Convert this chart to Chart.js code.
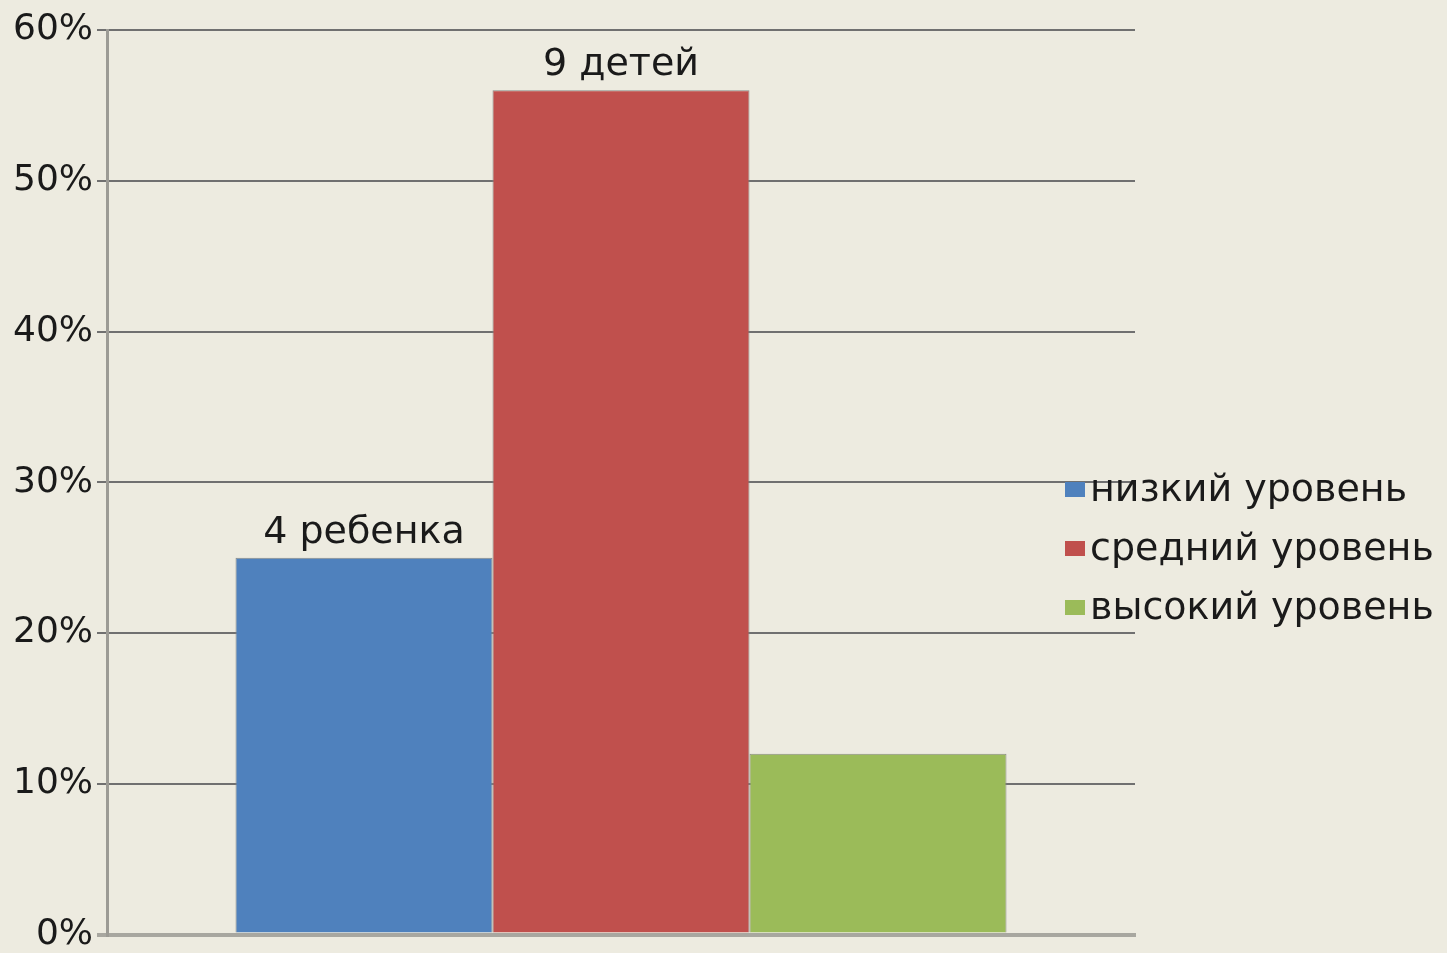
<!DOCTYPE html>
<html>
<head>
    <meta charset="utf-8">
    <title>Уровни</title>
    <script src="https://cdn.jsdelivr.net/npm/chart.js"></script>
    <style>
        html, body {
            margin: 0;
            padding: 0;
            background: #edebe0;
        }
        .chart-wrap {
            width: 1447px;
            height: 953px;
            position: relative;
        }
    </style>
</head>
<body>
<div class="chart-wrap">
    <canvas id="levelChart"></canvas>
</div>

<script>
    // data
    const categories = [''];
    const seriesNames = ['низкий уровень', 'средний уровень', 'высокий уровень'];
    const seriesValues = [25, 56, 12];
    const barLabels = ['4 ребенка', '9 детей', ''];
    const seriesColors = ['#4f81bd', '#c0504d', '#9bbb59'];
    const yMin = 0, yMax = 60, yStep = 10;

    const FONT = "'DejaVu Sans', Verdana, sans-serif";

    // text over the bars
    const barLabelPlugin = {
        id: 'barLabels',
        afterDatasetsDraw(chart) {
            const ctx = chart.ctx;
            ctx.save();
            ctx.font = '38px ' + FONT;
            ctx.fillStyle = '#1a1a1a';
            ctx.textAlign = 'center';
            ctx.textBaseline = 'bottom';
            chart.data.datasets.forEach((ds, i) => {
                const text = barLabels[i];
                if (!text) return;
                const bar = chart.getDatasetMeta(i).data[0];
                ctx.fillText(text, bar.x, bar.y - 6);
            });
            ctx.restore();
        }
    };

    // legend sits partly over the plot, so it is drawn by hand
    const sideLegendPlugin = {
        id: 'sideLegend',
        afterDraw(chart) {
            const ctx = chart.ctx;
            const left = 1065, firstY = 490, rowGap = 59;
            ctx.save();
            ctx.font = '38px ' + FONT;
            ctx.textBaseline = 'middle';
            chart.data.datasets.forEach((ds, i) => {
                const y = firstY + i * rowGap;
                ctx.fillStyle = ds.backgroundColor;
                ctx.fillRect(left, y - 8, 20, 15);
                ctx.fillStyle = '#1a1a1a';
                ctx.fillText(ds.label, left + 25, y + 1);
            });
            ctx.restore();
        }
    };

    const ctx = document.getElementById('levelChart').getContext('2d');
    new Chart(ctx, {
        type: 'bar',
        data: {
            labels: categories,
            datasets: seriesNames.map((name, i) => ({
                label: name,
                data: [seriesValues[i]],
                backgroundColor: seriesColors[i],
                borderColor: '#8a8a86',
                borderWidth: 1,
                categoryPercentage: 0.75,
                barPercentage: 1.0
            }))
        },
        options: {
            responsive: true,
            maintainAspectRatio: false,
            animation: false,
            layout: {
                padding: {top: 30, right: 312, bottom: 0, left: 0}
            },
            plugins: {
                legend: {display: false},
                tooltip: {enabled: false}
            },
            scales: {
                x: {
                    afterFit(scale) {
                        scale.height = 15;
                    },
                    ticks: {display: false},
                    grid: {display: false},
                    border: {display: true, color: '#a8a7a0', width: 4}
                },
                y: {
                    min: yMin,
                    max: yMax,
                    afterFit(scale) {
                        scale.width = 107;
                    },
                    ticks: {
                        stepSize: yStep,
                        padding: 4,
                        color: '#1a1a1a',
                        font: {family: FONT, size: 36, lineHeight: 0.8},
                        callback: v => v + '%'
                    },
                    grid: {
                        tickLength: 10,
                        color: c => c.tick && c.tick.value === 0 ? '#a8a7a0' : '#707070',
                        lineWidth: c => c.tick && c.tick.value === 0 ? 4 : 2
                    },
                    border: {display: true, color: '#9c9b95', width: 3}
                }
            }
        },
        plugins: [barLabelPlugin, sideLegendPlugin]
    });
</script>
</body>
</html>
